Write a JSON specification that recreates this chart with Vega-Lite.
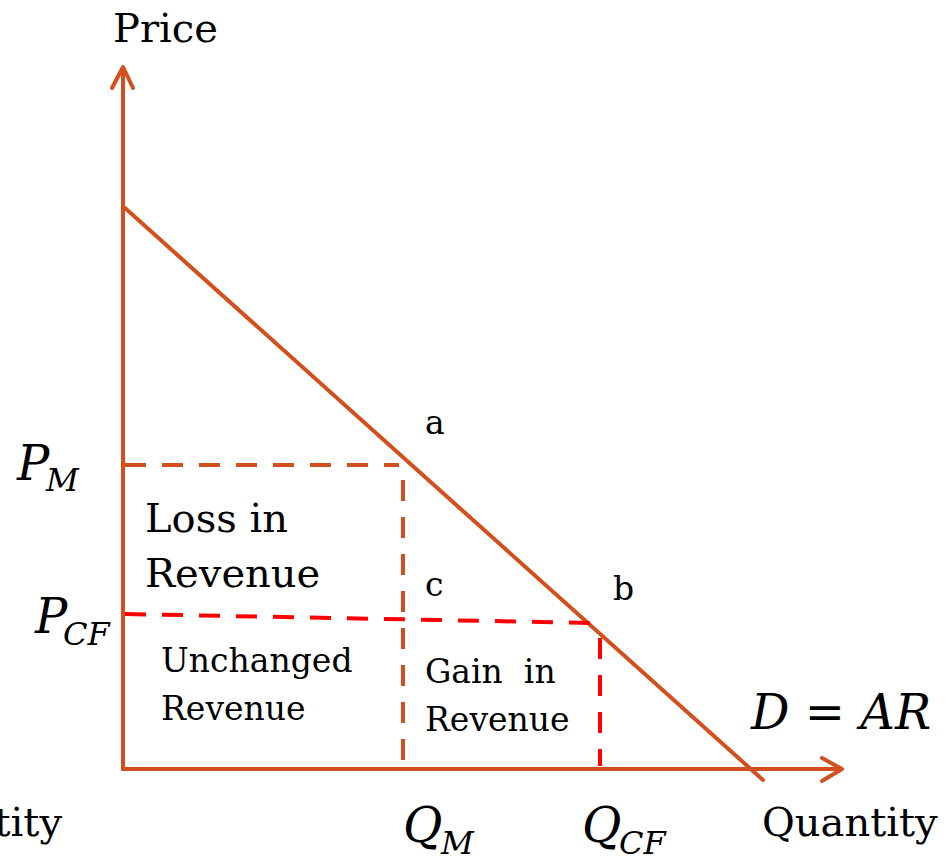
{
  "$schema": "https://vega.github.io/schema/vega-lite/v6.json",
  "width": 949,
  "height": 862,
  "padding": 0,
  "autosize": {"type": "none"},
  "background": "white",
  "config": {"view": {"stroke": null}},
  "datasets": {
    "lines": [
      {"id": "yaxis", "style": "solid", "ord": 1, "q": 0, "p": 0},
      {"id": "yaxis", "style": "solid", "ord": 2, "q": 0, "p": 70.1},
      {"id": "yarrow", "style": "solid", "ord": 1, "q": -1.1, "p": 68.1},
      {"id": "yarrow", "style": "solid", "ord": 2, "q": 0, "p": 70.2},
      {"id": "yarrow", "style": "solid", "ord": 3, "q": 1.0, "p": 68.1},
      {"id": "xaxis", "style": "solid", "ord": 1, "q": 0, "p": 0},
      {"id": "xaxis", "style": "solid", "ord": 2, "q": 71.8, "p": 0},
      {"id": "xarrow", "style": "solid", "ord": 1, "q": 69.9, "p": 1.1},
      {"id": "xarrow", "style": "solid", "ord": 2, "q": 71.9, "p": 0},
      {"id": "xarrow", "style": "solid", "ord": 3, "q": 69.9, "p": -1.2},
      {"id": "demand", "style": "solid", "ord": 1, "q": 0.2, "p": 56.1},
      {"id": "demand", "style": "solid", "ord": 2, "q": 64.0, "p": -1.1},
      {"id": "pm", "style": "dashorange", "ord": 1, "q": 0.2, "p": 30.4},
      {"id": "pm", "style": "dashorange", "ord": 2, "q": 27.6, "p": 30.4},
      {"id": "qm", "style": "dashorange", "ord": 1, "q": 28.0, "p": 28.9},
      {"id": "qm", "style": "dashorange", "ord": 2, "q": 28.0, "p": 0.3},
      {"id": "pcf", "style": "dashred", "ord": 1, "q": 0.2, "p": 15.5},
      {"id": "pcf", "style": "dashred", "ord": 2, "q": 47.1, "p": 14.6},
      {"id": "qcf", "style": "dashred", "ord": 1, "q": 47.7, "p": 13.1},
      {"id": "qcf", "style": "dashred", "ord": 2, "q": 47.7, "p": 0.3}
    ],
    "labels": [
      {"label": "Price", "grp": "big", "q": -1.0, "p": 72.7, "al": "left"},
      {"label": "Quantity", "grp": "big", "q": 63.9, "p": -6.7, "al": "left"},
      {"label": "Quantity", "grp": "big", "q": -6.1, "p": -6.7, "al": "right"},
      {"label": "Loss in", "grp": "big", "q": 2.2, "p": 23.7, "al": "left"},
      {"label": "Revenue", "grp": "big", "q": 2.2, "p": 18.2, "al": "left"},
      {"label": "Unchanged", "grp": "small", "q": 3.8, "p": 9.7, "al": "left"},
      {"label": "Revenue", "grp": "small", "q": 3.8, "p": 4.9, "al": "left"},
      {"label": "Gain\u00a0\u00a0in", "grp": "small", "q": 30.2, "p": 8.6, "al": "left"},
      {"label": "Revenue", "grp": "small", "q": 30.2, "p": 3.8, "al": "left"},
      {"label": "a", "grp": "small", "q": 30.2, "p": 33.5, "al": "left"},
      {"label": "c", "grp": "small", "q": 30.2, "p": 17.3, "al": "left"},
      {"label": "b", "grp": "small", "q": 49.0, "p": 16.9, "al": "left"},
      {"label": "P", "grp": "math", "q": -10.6, "p": 28.9, "al": "left"},
      {"label": "P", "grp": "math", "q": -8.8, "p": 13.6, "al": "left"},
      {"label": "Q", "grp": "math", "q": 28.0, "p": -7.3, "al": "left"},
      {"label": "Q", "grp": "math", "q": 45.9, "p": -7.3, "al": "left"},
      {"label": "D = AR", "grp": "math", "q": 62.8, "p": 4.0, "al": "left"},
      {"label": "M", "grp": "sub", "q": -7.7, "p": 27.8, "al": "left"},
      {"label": "CF", "grp": "sub", "q": -6.0, "p": 12.4, "al": "left"},
      {"label": "M", "grp": "sub", "q": 31.8, "p": -8.5, "al": "left"},
      {"label": "CF", "grp": "sub", "q": 49.6, "p": -8.5, "al": "left"}
    ]
  },
  "encoding": {
    "x": {"field": "q", "type": "quantitative", "scale": {"domain": [-12.3, 82.6], "nice": false, "zero": false}, "axis": null},
    "y": {"field": "p", "type": "quantitative", "scale": {"domain": [-9.3, 76.9], "nice": false, "zero": false}, "axis": null}
  },
  "layer": [
    {
      "data": {"name": "lines"},
      "transform": [{"filter": "datum.style === 'solid'"}],
      "mark": {"type": "line", "color": "#D34F1D", "strokeWidth": 4, "strokeCap": "round", "strokeJoin": "round", "clip": false},
      "encoding": {"detail": {"field": "id"}, "order": {"field": "ord", "type": "quantitative"}}
    },
    {
      "data": {"name": "lines"},
      "transform": [{"filter": "datum.style === 'dashorange'"}],
      "mark": {"type": "line", "color": "#D34F1D", "strokeWidth": 4, "strokeDash": [21, 16], "clip": false},
      "encoding": {"detail": {"field": "id"}, "order": {"field": "ord", "type": "quantitative"}}
    },
    {
      "data": {"name": "lines"},
      "transform": [{"filter": "datum.style === 'dashred'"}],
      "mark": {"type": "line", "color": "#FF0000", "strokeWidth": 4, "strokeDash": [21, 16], "clip": false},
      "encoding": {"detail": {"field": "id"}, "order": {"field": "ord", "type": "quantitative"}}
    },
    {
      "data": {"name": "labels"},
      "transform": [{"filter": "datum.grp === 'big' && datum.al === 'left'"}],
      "mark": {"type": "text", "font": "DejaVu Serif", "fontSize": 40, "color": "black", "align": "left", "baseline": "alphabetic"},
      "encoding": {"text": {"field": "label"}}
    },
    {
      "data": {"name": "labels"},
      "transform": [{"filter": "datum.grp === 'big' && datum.al === 'right'"}],
      "mark": {"type": "text", "font": "DejaVu Serif", "fontSize": 40, "color": "black", "align": "right", "baseline": "alphabetic"},
      "encoding": {"text": {"field": "label"}}
    },
    {
      "data": {"name": "labels"},
      "transform": [{"filter": "datum.grp === 'small'"}],
      "mark": {"type": "text", "font": "DejaVu Serif", "fontSize": 33, "color": "black", "align": "left", "baseline": "alphabetic"},
      "encoding": {"text": {"field": "label"}}
    },
    {
      "data": {"name": "labels"},
      "transform": [{"filter": "datum.grp === 'math'"}],
      "mark": {"type": "text", "font": "DejaVu Serif", "fontStyle": "italic", "fontSize": 48, "color": "black", "align": "left", "baseline": "alphabetic"},
      "encoding": {"text": {"field": "label"}}
    },
    {
      "data": {"name": "labels"},
      "transform": [{"filter": "datum.grp === 'sub'"}],
      "mark": {"type": "text", "font": "DejaVu Serif", "fontStyle": "italic", "fontSize": 32, "color": "black", "align": "left", "baseline": "alphabetic"},
      "encoding": {"text": {"field": "label"}}
    }
  ]
}
